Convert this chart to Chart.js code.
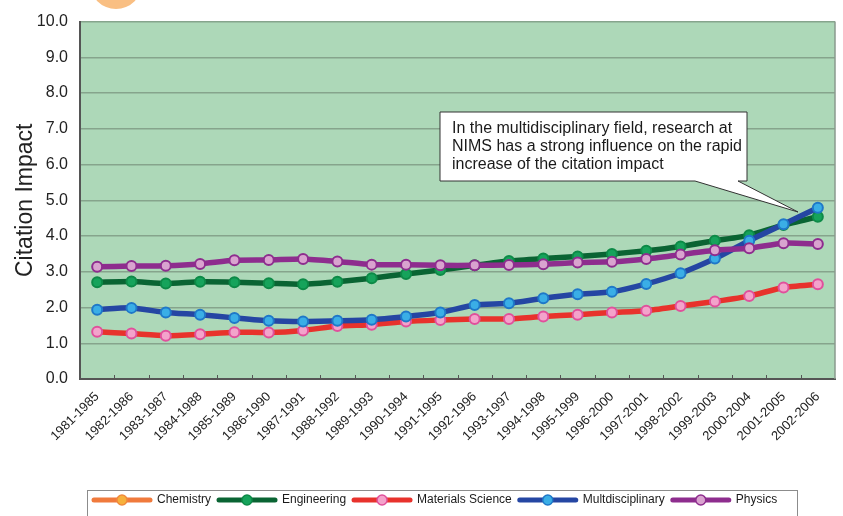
<!DOCTYPE html>
<html>
<head>
<meta charset="utf-8">
<script src="https://cdn.jsdelivr.net/npm/chart.js@4.4.1/dist/chart.umd.min.js"></script>
<style>
  html, body { margin: 0; padding: 0; background: #ffffff; }
  #wrap { width: 843px; height: 516px; position: relative; overflow: hidden; }
</style>
</head>
<body>
<div id="wrap"><canvas id="c" width="843" height="516"></canvas></div>
<script>
// Five-year citation windows
const categories = [
  '1981-1985','1982-1986','1983-1987','1984-1988','1985-1989','1986-1990',
  '1987-1991','1988-1992','1989-1993','1990-1994','1991-1995','1992-1996',
  '1993-1997','1994-1998','1995-1999','1996-2000','1997-2001','1998-2002',
  '1999-2003','2000-2004','2001-2005','2002-2006'
];

// Citation impact per field
const chemistry = [];
const engineering = [2.71, 2.73, 2.67, 2.72, 2.71, 2.68, 2.65, 2.72, 2.82, 2.94, 3.05,
                     3.18, 3.30, 3.37, 3.43, 3.50, 3.59, 3.71, 3.87, 4.02, 4.31, 4.54];
const materialsScience = [1.32, 1.27, 1.21, 1.25, 1.31, 1.30, 1.36, 1.48, 1.52, 1.61, 1.65,
                          1.68, 1.68, 1.75, 1.80, 1.86, 1.91, 2.04, 2.17, 2.32, 2.56, 2.65];
const multidisciplinary = [1.94, 1.99, 1.86, 1.80, 1.71, 1.63, 1.61, 1.63, 1.66, 1.75, 1.86,
                           2.07, 2.12, 2.26, 2.37, 2.44, 2.66, 2.96, 3.37, 3.87, 4.33, 4.79];
const physics = [3.14, 3.16, 3.17, 3.22, 3.32, 3.33, 3.36, 3.29, 3.20, 3.20, 3.18,
                 3.18, 3.19, 3.21, 3.26, 3.28, 3.36, 3.48, 3.60, 3.66, 3.80, 3.78];

// Axis ticks
const yTicks = [0, 1, 2, 3, 4, 5, 6, 7, 8, 9, 10];

const seriesNames = ['Chemistry', 'Engineering', 'Materials Science', 'Multdisciplinary', 'Physics'];

const noteLines = [
  'In the multidisciplinary field, research at',
  'NIMS has a strong influence on the rapid',
  'increase of the citation impact'
];

const FONT = "'Liberation Sans', Arial, Helvetica, sans-serif";

function lineSet(label, data, line, fill, ring, order) {
  return {
    label, data, order,
    borderColor: line,
    borderWidth: 5.5,
    pointRadius: 5,
    pointBorderWidth: 2,
    pointBackgroundColor: fill,
    pointBorderColor: ring,
    tension: 0.2,
    fill: false
  };
}

// Plot background, frame and inner tick marks
const frame = {
  id: 'frame',
  beforeDraw(chart) {
    const { ctx, chartArea: a } = chart;
    ctx.save();
    // badge peeking in at the top edge
    ctx.fillStyle = '#f9bf83';
    ctx.beginPath();
    ctx.arc(116, -17, 26, 0, Math.PI * 2);
    ctx.fill();
    ctx.fillStyle = '#add8b8';
    ctx.fillRect(a.left, a.top, a.right - a.left, a.bottom - a.top);
    ctx.restore();
  },
  beforeDatasetsDraw(chart) {
    const { ctx, chartArea: a } = chart;
    ctx.save();
    ctx.strokeStyle = '#8a9a8e';
    ctx.lineWidth = 1.5;
    ctx.beginPath();
    ctx.moveTo(a.right, a.top);
    ctx.lineTo(a.right, a.bottom);
    ctx.stroke();
    // short inward ticks between categories
    const n = categories.length;
    const step = (a.right - a.left) / n;
    ctx.strokeStyle = '#555';
    ctx.lineWidth = 1;
    ctx.beginPath();
    for (let i = 1; i < n; i++) {
      const x = Math.round(a.left + i * step) + 0.5;
      ctx.moveTo(x, a.bottom);
      ctx.lineTo(x, a.bottom - 4);
    }
    ctx.stroke();
    ctx.restore();
  }
};

// Callout note and the boxed legend
const extras = {
  id: 'extras',
  afterDraw(chart) {
    const { ctx } = chart;
    ctx.save();
    // callout box with pointer
    const L = 440, T = 112, R = 747, B = 181;
    ctx.beginPath();
    ctx.moveTo(L, T);
    ctx.lineTo(R, T);
    ctx.lineTo(R, B);
    ctx.lineTo(738, B);
    ctx.lineTo(798, 212);
    ctx.lineTo(695, B);
    ctx.lineTo(L, B);
    ctx.closePath();
    ctx.fillStyle = '#ffffff';
    ctx.fill();
    ctx.strokeStyle = '#333';
    ctx.lineWidth = 1;
    ctx.stroke();
    ctx.fillStyle = '#1a1a1a';
    ctx.font = '16px ' + FONT;
    ctx.textBaseline = 'alphabetic';
    ctx.textAlign = 'left';
    noteLines.forEach((s, i) => ctx.fillText(s, 452, 133 + i * 18));

    // legend
    ctx.strokeStyle = '#8c8c8c';
    ctx.lineWidth = 1;
    ctx.strokeRect(87.5, 490.5, 710, 40);
    ctx.font = '12px ' + FONT;
    ctx.textBaseline = 'middle';
    let x = 92;
    const y = 500;
    chart.data.datasets.forEach(ds => {
      const w = 60;
      ctx.strokeStyle = ds.borderColor;
      ctx.lineWidth = 5;
      ctx.lineCap = 'round';
      ctx.beginPath();
      ctx.moveTo(x + 2, y);
      ctx.lineTo(x + w - 2, y);
      ctx.stroke();
      ctx.beginPath();
      ctx.arc(x + w / 2, y, 5, 0, Math.PI * 2);
      ctx.fillStyle = ds.pointBackgroundColor;
      ctx.fill();
      ctx.lineWidth = 1.5;
      ctx.strokeStyle = ds.pointBorderColor;
      ctx.stroke();
      ctx.fillStyle = '#1a1a1a';
      ctx.fillText(ds.label, x + w + 5, y);
      x += w + 5 + ctx.measureText(ds.label).width + 6;
    });
    ctx.restore();
  }
};

new Chart(document.getElementById('c'), {
  type: 'line',
  data: {
    labels: categories,
    datasets: [
      lineSet(seriesNames[0], chemistry, '#f07a3c', '#f6b13c', '#f08a3c', 5),
      lineSet(seriesNames[1], engineering, '#0a6433', '#16a35b', '#0d8a47', 4),
      lineSet(seriesNames[2], materialsScience, '#e8322c', '#f3a3cb', '#e0509c', 3),
      lineSet(seriesNames[3], multidisciplinary, '#2546a3', '#3aaee6', '#1f78c8', 2),
      lineSet(seriesNames[4], physics, '#8e2d8e', '#d9a3cf', '#8e2d8e', 1)
    ]
  },
  options: {
    responsive: false,
    animation: false,
    events: [],
    layout: { autoPadding: false, padding: { top: 18, right: 8, left: 0, bottom: 0 } },
    plugins: { legend: { display: false }, tooltip: { enabled: false } },
    scales: {
      x: {
        offset: true,
        grid: { display: false },
        border: { display: true, color: '#555', width: 2 },
        ticks: {
          autoSkip: false, minRotation: 45, maxRotation: 45,
          font: { family: FONT, size: 13 }, color: '#222', padding: 2
        },
        afterFit(s) { s.height = 137; }
      },
      y: {
        min: yTicks[0], max: yTicks[yTicks.length - 1],
        afterBuildTicks(s) { s.ticks = yTicks.map(v => ({ value: v })); },
        ticks: {
          callback: v => Number(v).toFixed(1),
          font: { family: FONT, size: 16 }, color: '#222', padding: 12
        },
        grid: { color: '#86a48c', lineWidth: 1.5, drawTicks: false },
        border: { color: '#555', width: 2 },
        title: {
          display: true, text: 'Citation Impact', color: '#222',
          font: { family: FONT, size: 23 }, padding: { top: 12, bottom: 0 }
        },
        afterFit(s) { s.width = 80; }
      }
    }
  },
  plugins: [frame, extras]
});
</script>
</body>
</html>
